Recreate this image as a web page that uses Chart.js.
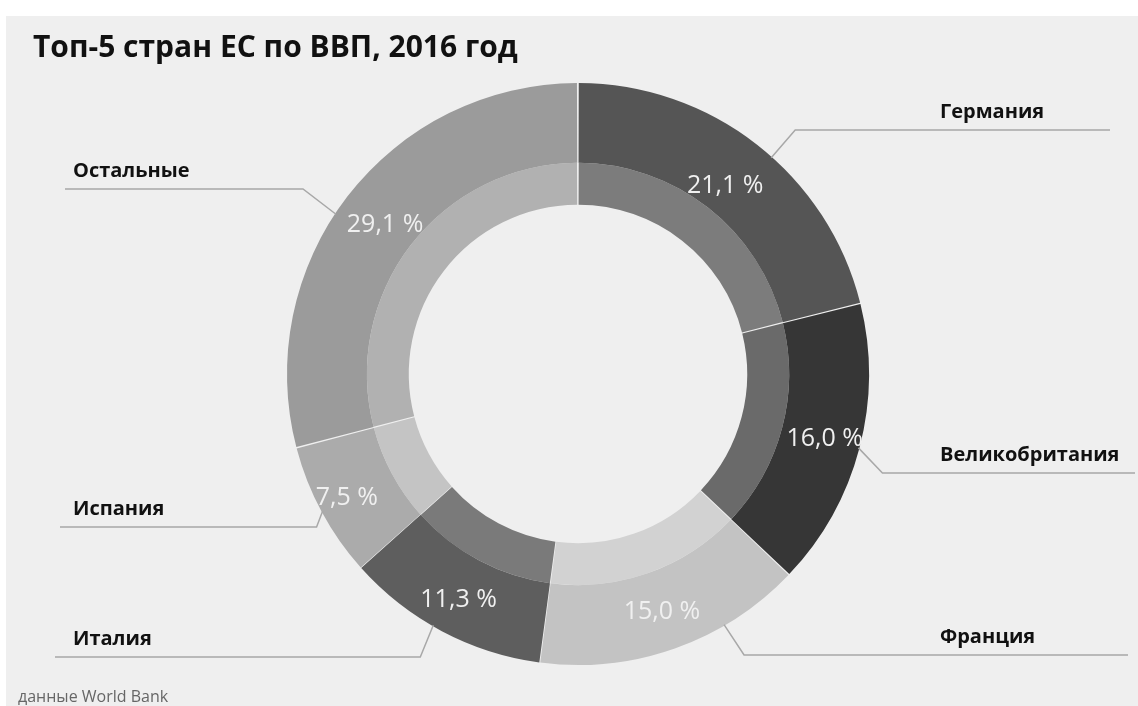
<!DOCTYPE html>
<html>
<head>
<meta charset="utf-8">
<script src="https://cdn.jsdelivr.net/npm/chart.js@4.4.0/dist/chart.umd.min.js"></script>
<style>
body { margin: 0; background: #fff; }
#wrap { position: relative; width: 1138px; height: 706px; }
#title { position: absolute; left: 33px; top: 31px; margin: 0; font: 700 30px/1 'Open Sans', sans-serif; color: #111; white-space: nowrap; }
#source { position: absolute; left: 18px; top: 688px; font: 400 16px/1 'Open Sans', sans-serif; color: #666; white-space: nowrap; }
</style>
</head>
<body>
<div id="wrap">
  <canvas id="gdpChart" width="1138" height="706"></canvas>
  <h1 id="title">Топ-5 стран ЕС по ВВП, 2016 год</h1>
  <div id="source">данные World Bank</div>
</div>
<script>
// доли стран в ВВП ЕС, %
const categories = ['Германия', 'Великобритания', 'Франция', 'Италия', 'Испания', 'Остальные'];
const shares = [21.1, 16.0, 15.0, 11.3, 7.5, 29.1];
const outerColors = ['#555555', '#363636', '#c3c3c3', '#5e5e5e', '#ababab', '#9b9b9b'];
const innerColors = ['#7c7c7c', '#6a6a6a', '#d2d2d2', '#7a7a7a', '#c4c4c4', '#b1b1b1'];

// где стоят подписи и выноски
const callouts = [
    { side: 'right', lineY: 130, lineTo: 1110, elbow: 24, anchor: 0.55, textR: 0.825 },
    { side: 'right', lineY: 473, lineTo: 1135, elbow: 24, anchor: 0.5,  textR: 0.88 },
    { side: 'right', lineY: 655, lineTo: 1128, elbow: 20, anchor: 0.3,  textR: 0.87 },
    { side: 'left',  lineY: 657, lineTo: 55,   elbow: -13, anchor: 0.55, textR: 0.88 },
    { side: 'left',  lineY: 527, lineTo: 60,   elbow: -6, anchor: 0.5,  textR: 0.905 },
    { side: 'left',  lineY: 189, lineTo: 65,   elbow: -33, anchor: 0.46, textR: 0.84 }
];

function fmt(v) {
    return v.toFixed(1).replace('.', ',') + ' %';
}

const backgroundPlugin = {
    id: 'bg',
    beforeDraw(chart) {
        const ctx = chart.ctx;
        ctx.save();
        ctx.fillStyle = '#ffffff';
        ctx.fillRect(0, 0, chart.width, chart.height);
        ctx.fillStyle = '#efefef';
        ctx.fillRect(6, 16, chart.width - 6, chart.height - 16);
        ctx.restore();
    }
};

const calloutPlugin = {
    id: 'callouts',
    afterDatasetsDraw(chart) {
        const ctx = chart.ctx;
        const meta = chart.getDatasetMeta(0);
        ctx.save();
        meta.data.forEach((arc, i) => {
            const p = arc.getProps(['x', 'y', 'startAngle', 'endAngle', 'outerRadius'], true);
            const c = callouts[i];
            const mid = (p.startAngle + p.endAngle) / 2;

            // значение внутри кольца
            const tr = p.outerRadius * c.textR;
            ctx.font = '400 25px "Open Sans"';
            ctx.fillStyle = '#f0f0f0';
            ctx.textAlign = 'center';
            ctx.textBaseline = 'middle';
            ctx.fillText(fmt(shares[i]), p.x + Math.cos(mid) * tr, p.y + Math.sin(mid) * tr);

            // выноска
            const a = p.startAngle + (p.endAngle - p.startAngle) * c.anchor;
            const sx = p.x + Math.cos(a) * p.outerRadius;
            const sy = p.y + Math.sin(a) * p.outerRadius;
            const ex = sx + c.elbow;
            ctx.strokeStyle = '#a8a8a8';
            ctx.lineWidth = 1.5;
            ctx.beginPath();
            ctx.moveTo(sx, sy);
            ctx.lineTo(ex, c.lineY);
            ctx.lineTo(c.lineTo, c.lineY);
            ctx.stroke();

            // название страны
            ctx.font = '700 20px "Open Sans"';
            ctx.fillStyle = '#111111';
            ctx.textAlign = 'left';
            ctx.textBaseline = 'alphabetic';
            ctx.fillText(categories[i], c.side === 'right' ? 940 : 73, c.lineY - 12);
        });
        ctx.restore();
    }
};

const ctx = document.getElementById('gdpChart').getContext('2d');
const gdpChart = new Chart(ctx, {
    type: 'doughnut',
    data: {
        labels: categories,
        datasets: [{
            data: shares,
            backgroundColor: outerColors,
            borderWidth: 0,
            weight: 80
        }, {
            data: shares,
            backgroundColor: innerColors,
            borderWidth: 0,
            weight: 42
        }]
    },
    options: {
        responsive: false,
        animation: false,
        events: [],
        cutout: '58%',
        spacing: 2,
        layout: {
            padding: { left: 287, right: 269, top: 83, bottom: 41 }
        },
        plugins: {
            legend: { display: false },
            tooltip: { enabled: false }
        }
    },
    plugins: [backgroundPlugin, calloutPlugin]
});
</script>
</body>
</html>
